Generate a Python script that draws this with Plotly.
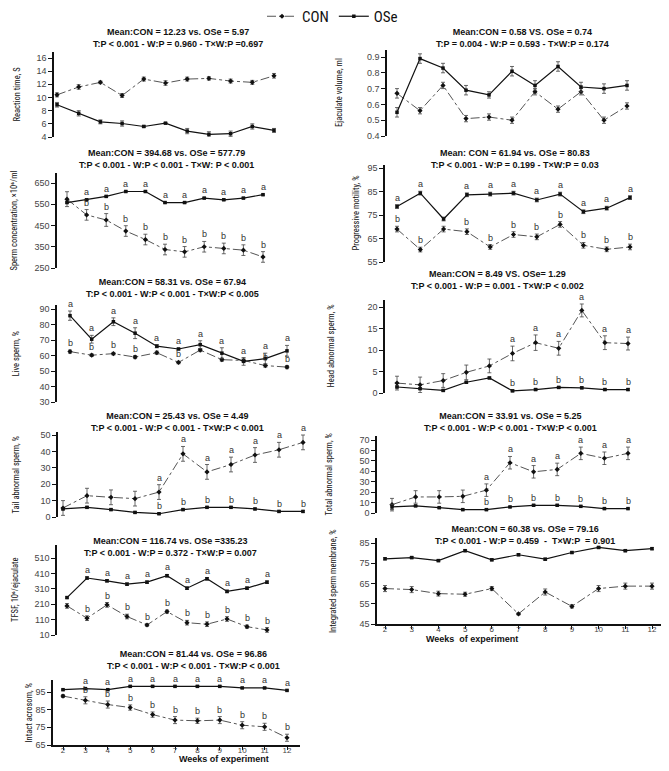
import plotly.graph_objects as go

# The page body adds an 8px offset to the figure on both axes.
OFF_X, OFF_Y = 8, 8
W, H = 669 - OFF_X, 771 - OFF_Y

weeks = [2, 3, 4, 5, 6, 7, 8, 9, 10, 11, 12]
week_ticks = [2, 3, 4, 5, 6, 7, 8, 9, 10, 11, 12]

# ---------------- data ----------------
rt_con = [10.4, 11.6, 12.3, 10.3, 12.8, 12.2, 12.8, 12.9, 12.5, 12.3, 13.3]
rt_con_err = [0.3, 0.35, 0.2, 0.3, 0.3, 0.35, 0.3, 0.25, 0.3, 0.3, 0.35]
rt_ose = [8.9, 7.6, 6.3, 6.05, 5.6, 6.1, 4.9, 4.4, 4.5, 5.6, 5.0]
rt_ose_err = [0.35, 0.4, 0.3, 0.4, 0.15, 0.1, 0.4, 0.4, 0.4, 0.4, 0.3]
rt_ticks = [4, 6, 8, 10, 12, 14, 16]

ev_con = [0.67, 0.56, 0.72, 0.51, 0.52, 0.50, 0.68, 0.57, 0.68, 0.50, 0.59]
ev_con_err = [0.03, 0.02, 0.02, 0.02, 0.02, 0.02, 0.02, 0.02, 0.02, 0.02, 0.02]
ev_ose = [0.55, 0.89, 0.83, 0.69, 0.66, 0.81, 0.72, 0.84, 0.71, 0.70, 0.72]
ev_ose_err = [0.03, 0.03, 0.03, 0.03, 0.02, 0.03, 0.03, 0.03, 0.03, 0.03, 0.03]
ev_ticks = [0.4, 0.5, 0.6, 0.7, 0.8, 0.9]

sc_con = [574, 500, 476, 424, 384, 337, 326, 350, 342, 334, 302]
sc_con_err = [35, 25, 30, 25, 25, 25, 25, 25, 25, 25, 25]
sc_ose = [558, 571, 587, 610, 610, 558, 558, 579, 571, 579, 595]
sc_ose_err = [3, 3, 3, 3, 3, 3, 3, 3, 3, 3, 3]
sc_con_let = ["", "b", "b", "b", "b", "b", "b", "b", "b", "b", "b"]
sc_ose_let = ["", "a", "a", "a", "a", "a", "a", "a", "a", "a", "a"]
sc_ticks = [250, 350, 450, 550, 650]

pm_con = [69.0, 60.3, 69.0, 67.9, 61.4, 66.7, 65.7, 71.0, 62.1, 60.4, 61.4]
pm_con_err = [1.2, 1.0, 1.2, 1.2, 1.0, 1.2, 1.2, 1.2, 1.2, 1.0, 1.2]
pm_ose = [78.6, 84.3, 73.3, 83.6, 83.9, 84.3, 81.4, 83.9, 76.4, 77.9, 82.4]
pm_ose_err = [0.8, 0.8, 0.8, 0.8, 0.8, 0.8, 0.8, 0.8, 0.8, 0.8, 0.8]
pm_con_let = ["b", "b", "", "b", "b", "b", "b", "b", "b", "b", "b"]
pm_ose_let = ["a", "a", "", "a", "a", "a", "a", "a", "a", "a", "a"]
pm_ticks = [55, 65, 75, 85, 95]

ls_con = [62.5, 60.2, 61.2, 59.0, 61.8, 55.5, 63.5, 57.3, 56.8, 53.5, 52.5]
ls_con_err = [1.0, 0.8, 0.8, 1.0, 1.0, 0.8, 1.0, 1.0, 1.0, 1.0, 1.0]
ls_ose = [85.7, 70.5, 81.8, 74.4, 66.0, 64.2, 67.0, 61.5, 56.2, 58.0, 63.0]
ls_ose_err = [3.0, 2.5, 2.5, 3.5, 1.0, 0.5, 2.5, 3.5, 2.5, 3.5, 3.5]
ls_con_let = ["b", "b", "b", "b", "", "b", "", "", "", "b", "b"]
ls_ose_let = ["a", "a", "a", "a", "a", "a", "a", "a", "a", "a", "a"]
ls_ticks = [30, 40, 50, 60, 70, 80, 90]

ha_con = [2.3, 1.9, 2.9, 4.8, 6.3, 9.2, 11.7, 10.4, 19.2, 11.7, 11.5]
ha_con_err = [1.6, 1.8, 1.6, 1.7, 1.6, 1.7, 1.8, 1.6, 1.5, 1.6, 1.5]
ha_ose = [1.4, 1.0, 0.6, 2.5, 3.5, 0.5, 0.8, 1.3, 1.2, 0.8, 0.8]
ha_ose_err = [0.2, 0.2, 0.2, 0.2, 0.2, 0.2, 0.2, 0.2, 0.2, 0.2, 0.2]
ha_con_let = ["", "", "", "", "", "a", "a", "a", "a", "a", "a"]
ha_ose_let = ["", "", "", "", "", "b", "b", "b", "b", "b", "b"]
ha_ticks = [0, 5, 10, 15, 20]

ta_con = [5.5, 13.0, 12.0, 11.2, 15.2, 38.5, 27.5, 32.0, 37.8, 41.0, 45.5]
ta_con_err = [4.5, 4.5, 4.5, 4.5, 4.5, 4.5, 4.5, 4.5, 4.5, 4.5, 4.5]
ta_ose = [4.9, 5.9, 4.5, 2.8, 2.0, 4.5, 5.9, 5.9, 4.9, 3.4, 3.4]
ta_ose_err = [0.5, 0.5, 0.5, 0.5, 0.5, 0.5, 0.5, 0.5, 0.5, 0.5, 0.5]
ta_con_let = ["", "", "", "", "a", "a", "a", "a", "a", "a", "a"]
ta_ose_let = ["", "", "", "", "b", "b", "b", "b", "b", "b", "b"]
ta_ticks = [0, 10, 20, 30, 40, 50]

tt_con = [8.0, 15.4, 15.4, 16.0, 21.9, 48.2, 39.5, 41.8, 57.2, 52.5, 57.2]
tt_con_err = [6, 6, 6, 6, 6, 6, 6, 6, 6, 6, 6]
tt_ose = [5.8, 6.8, 5.1, 3.2, 3.2, 5.8, 7.4, 7.4, 6.4, 4.2, 4.2]
tt_ose_err = [2.5, 0.5, 0.5, 0.5, 0.5, 0.5, 0.5, 0.5, 0.5, 0.5, 0.5]
tt_con_let = ["", "", "", "", "a", "a", "a", "a", "a", "a", "a"]
tt_ose_let = ["", "", "", "", "b", "b", "b", "b", "b", "b", "b"]
tt_ticks = [0, 10, 20, 30, 40, 50, 60, 70]

tf_con = [199, 119, 206, 130, 75, 162, 90, 80, 114, 64, 43]
tf_con_err = [15, 15, 15, 15, 8, 10, 15, 15, 15, 10, 15]
tf_ose = [253, 380, 362, 340, 353, 395, 314, 375, 293, 314, 353]
tf_ose_err = [5, 8, 8, 8, 8, 8, 8, 8, 8, 8, 8]
tf_con_let = ["", "b", "b", "b", "b", "b", "b", "b", "b", "b", "b"]
tf_ose_let = ["", "a", "a", "a", "a", "a", "a", "a", "a", "a", "a"]
tf_ticks = [10, 110, 210, 310, 410, 510]

im_con = [62.5, 62.0, 60.0, 59.7, 62.5, 50.0, 60.8, 53.7, 62.5, 63.7, 63.7]
im_con_err = [1.5, 1.5, 1.2, 1.0, 1.0, 0.5, 1.5, 0.8, 1.5, 1.5, 1.5]
im_ose = [77.2, 77.8, 76.3, 81.2, 76.7, 79.2, 77.0, 80.3, 82.8, 81.2, 82.2]
im_ose_err = [0.5, 0.5, 0.5, 0.5, 0.5, 0.5, 0.5, 0.5, 0.5, 0.5, 0.5]
im_ticks = [45, 55, 65, 75, 85]

ia_con = [92.7, 90.3, 87.9, 86.2, 82.2, 79.1, 78.7, 79.1, 76.2, 75.3, 69.1]
ia_con_err = [0.8, 2.0, 2.0, 1.5, 1.5, 2.0, 1.5, 2.0, 2.0, 2.0, 2.0]
ia_ose = [96.3, 96.9, 96.3, 98.2, 98.2, 98.2, 98.2, 98.2, 97.3, 97.3, 95.9]
ia_ose_err = [0.3, 0.3, 0.3, 0.3, 0.3, 0.3, 0.3, 0.3, 0.3, 0.3, 0.3]
ia_con_let = ["", "b", "b", "b", "b", "b", "b", "b", "b", "b", "b"]
ia_ose_let = ["", "a", "a", "a", "a", "a", "a", "a", "a", "a", "a"]
ia_ticks = [65, 75, 85, 95]

panels = [
    dict(con=rt_con, ce=rt_con_err, ose=rt_ose, oe=rt_ose_err, cl=None, ol=None, ticks=rt_ticks, fmt="",
         t1="Mean:CON = 12.23 vs. OSe = 5.97", t2="T:P < 0.001 - W:P = 0.960 - T×W:P =0.697",
         ylab="Reaction time, S"),
    dict(con=ev_con, ce=ev_con_err, ose=ev_ose, oe=ev_ose_err, cl=None, ol=None, ticks=ev_ticks, fmt=".1f",
         t1="Mean:CON = 0.58 VS. OSe = 0.74", t2="T:P = 0.004 - W:P = 0.593 - T×W:P = 0.174",
         ylab="Ejaculate volume, ml"),
    dict(con=sc_con, ce=sc_con_err, ose=sc_ose, oe=sc_ose_err, cl=sc_con_let, ol=sc_ose_let, ticks=sc_ticks, fmt="",
         t1="Mean:CON = 394.68 vs. OSe = 577.79", t2="T:P < 0.001 - W:P < 0.001 - T×W: P < 0.001",
         ylab="Sperm concentration, ×10⁶/ml"),
    dict(con=pm_con, ce=pm_con_err, ose=pm_ose, oe=pm_ose_err, cl=pm_con_let, ol=pm_ose_let, ticks=pm_ticks, fmt="",
         t1="Mean: CON = 61.94 vs. OSe = 80.83", t2="T:P < 0.001 - W:P = 0.199 - T×W:P = 0.03",
         ylab="Progressive motility, %"),
    dict(con=ls_con, ce=ls_con_err, ose=ls_ose, oe=ls_ose_err, cl=ls_con_let, ol=ls_ose_let, ticks=ls_ticks, fmt="",
         t1="Mean:CON = 58.31 vs. OSe = 67.94", t2="T:P < 0.001 - W:P < 0.001 - T×W:P < 0.005",
         ylab="Live sperm, %"),
    dict(con=ha_con, ce=ha_con_err, ose=ha_ose, oe=ha_ose_err, cl=ha_con_let, ol=ha_ose_let, ticks=ha_ticks, fmt="",
         t1="Mean:CON = 8.49 VS. OSe= 1.29", t2="T:P < 0.001 - W:P = 0.001 - T×W:P < 0.002",
         ylab="Head abnormal sperm, %"),
    dict(con=ta_con, ce=ta_con_err, ose=ta_ose, oe=ta_ose_err, cl=ta_con_let, ol=ta_ose_let, ticks=ta_ticks, fmt="",
         t1="Mean:CON = 25.43 vs. OSe = 4.49", t2="T:P < 0.001 - W:P < 0.001 - T×W:P < 0.001",
         ylab="Tail abnormal sperm, %"),
    dict(con=tt_con, ce=tt_con_err, ose=tt_ose, oe=tt_ose_err, cl=tt_con_let, ol=tt_ose_let, ticks=tt_ticks, fmt="",
         t1="Mean:CON = 33.91 vs. OSe = 5.25", t2="T:P < 0.001 - W:P < 0.001 - T×W:P < 0.001",
         ylab="Total abnormal sperm, %"),
    dict(con=tf_con, ce=tf_con_err, ose=tf_ose, oe=tf_ose_err, cl=tf_con_let, ol=tf_ose_let, ticks=tf_ticks, fmt="",
         t1="Mean:CON = 116.74 vs. OSe =335.23", t2="T:P < 0.001 - W:P = 0.372 - T×W:P = 0.007",
         ylab="TFSF, 10⁶/ejaculate"),
    dict(con=im_con, ce=im_con_err, ose=im_ose, oe=im_ose_err, cl=None, ol=None, ticks=im_ticks, fmt="",
         t1="Mean:CON = 60.38 vs. OSe = 79.16", t2="T:P < 0.001 - W:P = 0.459  -  T×W:P  = 0.901",
         ylab="Integrated sperm membrane, %"),
    dict(con=ia_con, ce=ia_con_err, ose=ia_ose, oe=ia_ose_err, cl=ia_con_let, ol=ia_ose_let, ticks=ia_ticks, fmt="",
         t1="Mean:CON = 81.44 vs. OSe = 96.86", t2="T:P < 0.001 - W:P < 0.001 - T×W:P < 0.001",
         ylab="Intact acrosom, %"),
]

# ---------------- layout geometry (screen pixels of the reference) ----------------
geom = [
    dict(axis=54, w2=57, w12=274, right=290, ta=(16, 58), tb=(4, 137), top=52, bottom=137, tx=178, tc=37.5, lx=17, showx=False),
    dict(axis=387, w2=397, w12=627, right=640, ta=(0.9, 57), tb=(0.4, 136), top=50, bottom=136, tx=522, tc=37.5, lx=339, showx=False),
    dict(axis=57, w2=67, w12=263, right=275, ta=(650, 183), tb=(250, 268), top=173, bottom=268, tx=166, tc=159, lx=14, showx=False),
    dict(axis=385, w2=397, w12=630, right=640, ta=(95, 168), tb=(55, 262), top=165, bottom=262, tx=515, tc=159, lx=355, showx=False),
    dict(axis=57, w2=70, w12=287, right=295, ta=(90, 309), tb=(30, 402), top=305, bottom=402, tx=172, tc=288, lx=15, showx=False),
    dict(axis=385, w2=397, w12=628, right=640, ta=(20, 307), tb=(0, 393), top=300, bottom=393, tx=497, tc=280, lx=330, showx=False),
    dict(axis=58, w2=63, w12=303, right=318, ta=(50, 435), tb=(0, 517), top=432, bottom=517, tx=177, tc=422, lx=15, showx=False),
    dict(axis=377, w2=392, w12=628, right=640, ta=(70, 440), tb=(0, 513), top=436, bottom=513, tx=510, tc=422, lx=328, showx=False),
    dict(axis=57, w2=67, w12=267, right=280, ta=(510, 558), tb=(10, 635), top=545, bottom=635, tx=170, tc=547, lx=15, showx=False),
    dict(axis=377, w2=385, w12=652, right=662, ta=(85, 543), tb=(45, 624), top=538, bottom=624, tx=525, tc=535, lx=333, showx=True),
    dict(axis=53, w2=63, w12=287, right=300, ta=(95, 692), tb=(65, 745), top=680, bottom=745, tx=193, tc=660, lx=28, showx=True),
]


def px_x(px):
    return (px - OFF_X) / W


def px_y(py):
    return 1 - (py - OFF_Y) / H


TITLE_FONT = dict(family="Liberation Sans, Arial, sans-serif", size=9, color="#111")
LAB_FONT = dict(family="Liberation Sans Narrow, Roboto Condensed, Arial Narrow, Liberation Sans, sans-serif", size=8.5, color="#111")
TICK_FONT = dict(family="Liberation Sans, Arial, sans-serif", size=9, color="#444")
XTICK_FONT = dict(family="Liberation Sans, Arial, sans-serif", size=8, color="#444")
LET_FONT = dict(family="Liberation Sans, Arial, sans-serif", size=9, color="#333")

fig = go.Figure()
annotations = []
layout = {}

for i, (p, g) in enumerate(zip(panels, geom), start=1):
    xa = "x" if i == 1 else f"x{i}"
    ya = "y" if i == 1 else f"y{i}"
    s = (g["w12"] - g["w2"]) / 10.0
    xmin = 2 - (g["w2"] - g["axis"]) / s
    xmax = 12 + (g["right"] - g["w12"]) / s
    (va, pa), (vb, pb) = g["ta"], g["tb"]
    k = (pb - pa) / (va - vb)
    ymax = va + (pa - g["top"]) / k
    ymin = vb - (g["bottom"] - pb) / k

    xkey = "xaxis" if i == 1 else f"xaxis{i}"
    ykey = "yaxis" if i == 1 else f"yaxis{i}"
    layout[xkey] = dict(
        domain=[px_x(g["axis"]), px_x(g["right"])], range=[xmin, xmax], anchor=ya,
        showgrid=False, zeroline=False,
        showline=g["showx"], linecolor="#111", linewidth=1.5,
        ticks="outside" if g["showx"] else "", ticklen=3, tickcolor="#111",
        showticklabels=g["showx"], tickvals=week_ticks, tickfont=XTICK_FONT,
        ticklabelstandoff=-6,
    )
    layout[ykey] = dict(
        domain=[px_y(g["bottom"]), px_y(g["top"])], range=[ymin, ymax], anchor=xa,
        showgrid=False, zeroline=False, showline=True, linecolor="#111", linewidth=1.5,
        ticks="outside", ticklen=4, tickcolor="#111", tickvals=p["ticks"],
        tickformat=p["fmt"], tickfont=TICK_FONT,
    )

    fig.add_trace(go.Scatter(
        x=weeks, y=p["con"], xaxis=xa, yaxis=ya, mode="lines+markers", name="CON",
        showlegend=(i == 1), legendrank=1,
        line=dict(color="#555", width=1, dash="dashdot"),
        marker=dict(symbol="diamond", size=4, color="#111"),
        error_y=dict(type="data", array=p["ce"], color="#444", thickness=0.8, width=2),
    ))
    fig.add_trace(go.Scatter(
        x=weeks, y=p["ose"], xaxis=xa, yaxis=ya, mode="lines+markers", name="OSe",
        showlegend=(i == 1), legendrank=2,
        line=dict(color="#111", width=1.2),
        marker=dict(symbol="square", size=3.5, color="#111"),
        error_y=dict(type="data", array=p["oe"], color="#444", thickness=0.8, width=2),
    ))

    # letters of significance
    for lets, vals, errs in ((p["cl"], p["con"], p["ce"]), (p["ol"], p["ose"], p["oe"])):
        if lets is None:
            continue
        for wk, L, v, e in zip(weeks, lets, vals, errs):
            if L:
                annotations.append(dict(x=wk, y=v + e, xref=xa, yref=ya, text=L, showarrow=False,
                                        yanchor="bottom", yshift=0, font=LET_FONT))

    # two-line panel title (one text block)
    annotations.append(dict(x=px_x(g["tx"]), y=px_y(g["tc"]), xref="paper", yref="paper",
                            text="<b>" + p["t1"] + "<br>" + p["t2"] + "</b>",
                            showarrow=False, xanchor="center", yanchor="middle", align="center", font=TITLE_FONT))
    # y labels
    annotations.append(dict(x=px_x(g["lx"]), y=px_y((g["top"] + g["bottom"]) / 2), xref="paper", yref="paper",
                            text=p["ylab"], textangle=-90, showarrow=False, xanchor="center", yanchor="middle",
                            font=LAB_FONT))

# x-axis titles
annotations.append(dict(x=px_x(520), y=px_y(646), xref="paper", yref="paper", text="<b>Weeks  of experiment</b>",
                        showarrow=False, font=dict(family="Liberation Sans, Arial, sans-serif", size=9, color="#111")))
annotations.append(dict(x=px_x(177), y=px_y(766), xref="paper", yref="paper", text="<b>Weeks of experiment</b>",
                        showarrow=False, font=dict(family="Liberation Sans, Arial, sans-serif", size=9, color="#111")))

fig.update_layout(
    width=W, height=H, margin=dict(l=0, r=0, t=0, b=0, autoexpand=False),
    paper_bgcolor="white", plot_bgcolor="white",
    annotations=annotations,
    showlegend=True,
    legend=dict(orientation="h", x=px_x(262), y=px_y(0), xanchor="left", yanchor="top",
                font=dict(family="Liberation Sans Narrow, Roboto Condensed, Arial Narrow, sans-serif", size=15, color="#111"),
                itemwidth=30, bgcolor="rgba(0,0,0,0)", tracegroupgap=0),
    **layout,
)

fig.write_html("out.html")
